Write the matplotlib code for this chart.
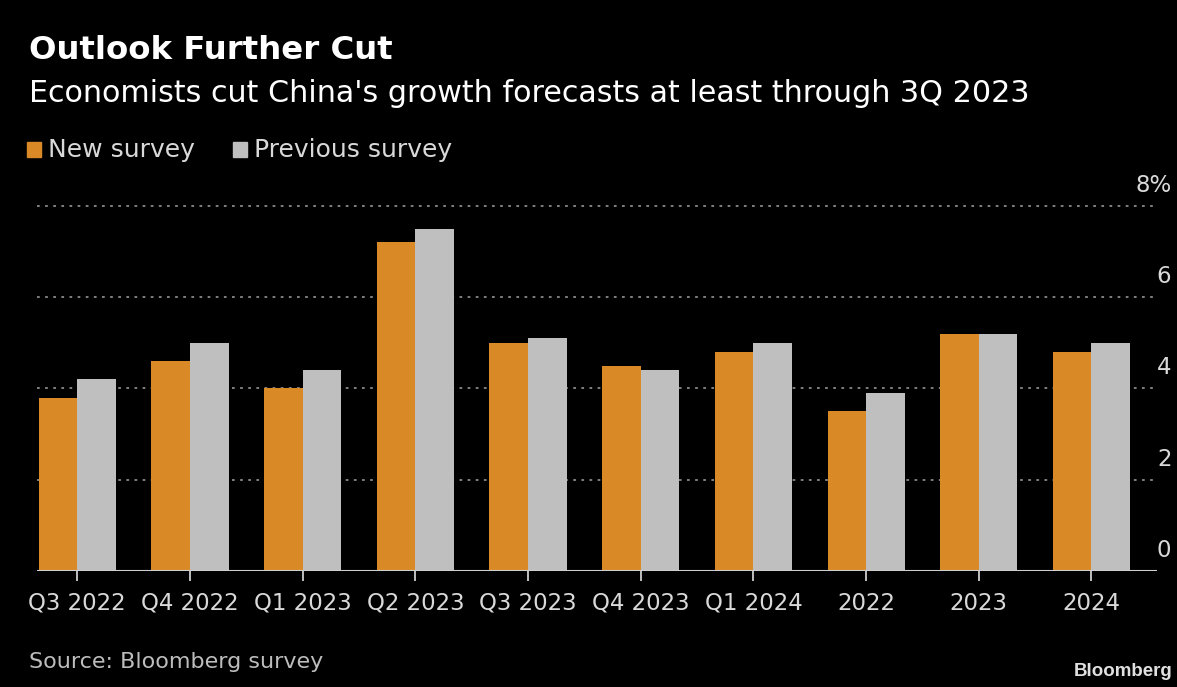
import numpy as np
import matplotlib.pyplot as plt
import matplotlib.transforms as mtransforms

# China GDP growth forecasts (%), new vs previous survey
periods = ['Q3 2022', 'Q4 2022', 'Q1 2023', 'Q2 2023', 'Q3 2023', 'Q4 2023',
           'Q1 2024', '2022', '2023', '2024']
new_survey = [3.8, 4.6, 4.0, 7.2, 5.0, 4.5, 4.8, 3.5, 5.2, 4.8]
prev_survey = [4.2, 5.0, 4.4, 7.5, 5.1, 4.4, 5.0, 3.9, 5.2, 5.0]
yticks = [0, 2, 4, 6, 8]

orange = '#d98a26'
grey = '#bfbfbf'
txt = '#d9d9d9'
plt.rcParams['font.family'] = ['DejaVu Sans']

fig = plt.figure(figsize=(11.77, 6.87), dpi=100, facecolor='black')
ax = fig.add_axes([0.0314, 0.169, 0.952, 0.5445], facecolor='black')

x = np.arange(len(periods))
w = 0.342
ax.bar(x - w / 2, new_survey, w, color=orange, zorder=3)
ax.bar(x + w / 2, prev_survey, w, color=grey, zorder=3)

ax.set_xlim(-0.358, len(periods) - 1 + 0.586)
ax.set_ylim(0, 8.2)

# dotted gridlines
for v in yticks[1:]:
    ax.axhline(v, color='#8a8a8a', lw=1.3, ls=(0, (1.5, 3)), zorder=1)
ax.axhline(0, color='#cfcfcf', lw=1.5, zorder=4)

for s in ax.spines.values():
    s.set_visible(False)
ax.set_yticks([])
ax.set_xticks(x)
ax.set_xticklabels(periods, color=txt, fontsize=16.5)
ax.tick_params(axis='x', length=7, width=1.3, color='#cfcfcf', pad=8)

# y labels sit above their gridlines at the right edge
trans = mtransforms.blended_transform_factory(ax.transAxes, ax.transData)
off = mtransforms.offset_copy(trans, fig=fig, x=14, y=9, units='dots')
for v in yticks:
    lab = '%d%%' % v if v == 8 else str(v)
    ax.text(1.0, v, lab, transform=off, ha='right', va='bottom',
            color=txt, fontsize=16.5)

fig.text(0.025, 0.926, 'Outlook Further Cut', color='white', fontsize=23.3,
         fontweight='bold', va='center')
fig.text(0.025, 0.864, "Economists cut China's growth forecasts at least through 3Q 2023",
         color='white', fontsize=21.7, va='center')

# legend
fig.patches.append(plt.Rectangle((0.023, 0.772), 0.012, 0.022, transform=fig.transFigure,
                                 color=orange))
fig.text(0.041, 0.782, 'New survey', color=txt, fontsize=18, va='center')
fig.patches.append(plt.Rectangle((0.198, 0.772), 0.012, 0.022, transform=fig.transFigure,
                                 color=grey))
fig.text(0.216, 0.782, 'Previous survey', color=txt, fontsize=18, va='center')

fig.text(0.025, 0.036, 'Source: Bloomberg survey', color='#bdbdbd', fontsize=16, va='center')
fig.text(0.996, 0.022, 'Bloomberg', color='#e0e0e0', fontsize=13.5, fontweight='bold',
         ha='right', va='center', family=['Liberation Sans', 'DejaVu Sans'])

fig.savefig('out.png', dpi=100, facecolor='black')
